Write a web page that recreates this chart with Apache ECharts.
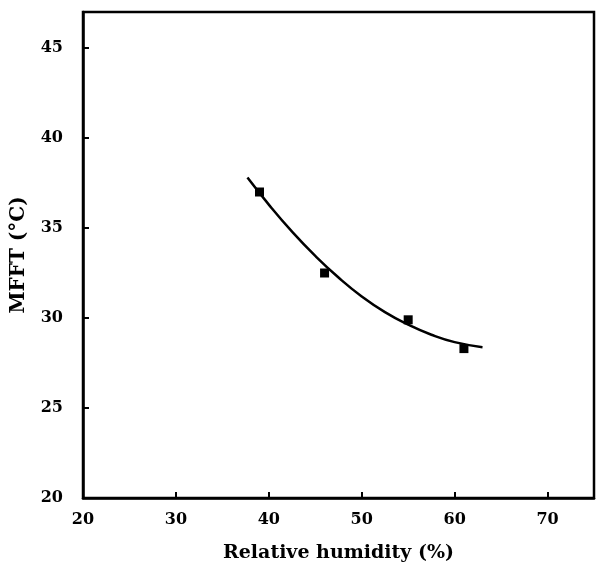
<!DOCTYPE html>
<html><head><meta charset="utf-8">
<script src="https://cdn.jsdelivr.net/npm/echarts@6/dist/echarts.min.js"></script>
<style>html,body{margin:0;padding:0;background:#fff}#c{width:597px;height:571px}</style>
</head><body><div id="c"></div>
<script>
var humidity = [39, 46, 55, 61];
var mfft = [37.0, 32.5, 29.9, 28.3];
var fitX = [37.7, 40, 42.5, 45, 47.5, 50, 52.5, 55, 57.5, 60, 63];
var fitY = [37.8, 36.3, 34.8, 33.45, 32.25, 31.2, 30.33, 29.63, 29.07, 28.66, 28.38];
var xTicks = [20, 30, 40, 50, 60, 70];
var yTicks = [20, 25, 30, 35, 40, 45];

var font = 'DejaVu Serif';
var chart = echarts.init(document.getElementById('c'));
chart.setOption({
  animation: false,
  grid: {left: 83, right: 0.5, top: 12, bottom: 73, show: true, borderColor: '#000', borderWidth: 2.5, backgroundColor: 'transparent'},
  xAxis: {
    type: 'value', min: 20, max: 75, interval: 10,
    name: 'Relative humidity (%)', nameLocation: 'middle', nameGap: 46,
    nameTextStyle: {fontFamily: font, fontWeight: 'bold', fontSize: 19, color: '#000'},
    axisLine: {lineStyle: {color: '#000', width: 2.5}},
    axisTick: {inside: true, length: 6, lineStyle: {color: '#000', width: 2}},
    axisLabel: {fontFamily: font, fontWeight: 'bold', fontSize: 16, color: '#000', margin: 14,
      formatter: function (v) { return xTicks.indexOf(v) >= 0 ? String(v) : ''; }},
    splitLine: {show: false}
  },
  yAxis: {
    type: 'value', min: 20, max: 47, interval: 5,
    name: 'MFFT (°C)', nameLocation: 'middle', nameGap: 54,
    nameTextStyle: {fontFamily: font, fontWeight: 'bold', fontSize: 20, color: '#000'},
    axisLine: {lineStyle: {color: '#000', width: 2.5}},
    axisTick: {inside: true, length: 6, lineStyle: {color: '#000', width: 2}},
    axisLabel: {fontFamily: font, fontWeight: 'bold', fontSize: 16, color: '#000', margin: 20,
      formatter: function (v) { return yTicks.indexOf(v) >= 0 ? String(v) : ''; }},
    splitLine: {show: false}
  },
  series: [
    {type: 'line', data: fitX.map(function (x, i) { return [x, fitY[i]]; }), smooth: true,
     showSymbol: false, lineStyle: {color: '#000', width: 2.5}, z: 2},
    {type: 'scatter', data: humidity.map(function (x, i) { return [x, mfft[i]]; }),
     symbol: 'rect', symbolSize: 9, itemStyle: {color: '#000', opacity: 1}, z: 3}
  ]
});
</script></body></html>
